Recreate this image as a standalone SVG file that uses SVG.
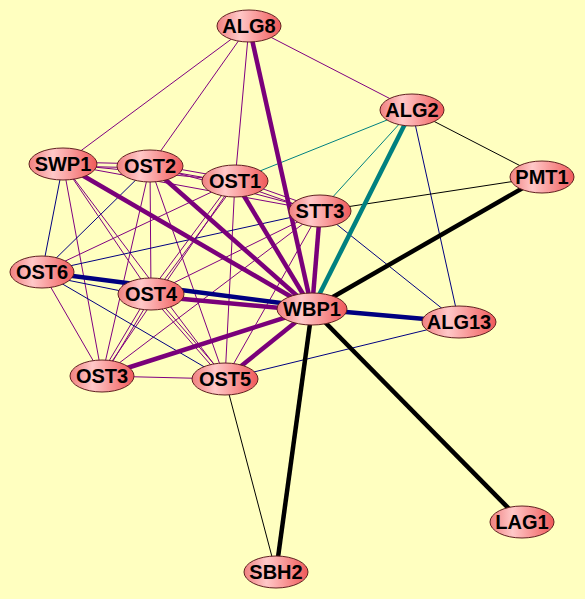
<svg xmlns="http://www.w3.org/2000/svg" width="585" height="599" viewBox="0 0 585 599">
<defs>
<linearGradient id="g" x1="0" y1="0" x2="1" y2="0">
<stop offset="0" stop-color="#f08080"/>
<stop offset="0.35" stop-color="#ffc8c8"/>
<stop offset="1" stop-color="#f05a5a"/>
</linearGradient>
<style>
.n ellipse{fill:url(#g);stroke:#602020;stroke-width:1}
.n text{font-family:"Liberation Sans",Arial,sans-serif;font-weight:bold;font-size:20px;text-anchor:middle;fill:#000}
.p{stroke:#800080;stroke-width:1}
.P{stroke:#7a007a;stroke-width:4.5}
.v{stroke:#000080;stroke-width:1}
.V{stroke:#000080;stroke-width:4.5}
.t{stroke:#008080;stroke-width:1}
.T{stroke:#008080;stroke-width:4.5}
.k{stroke:#000;stroke-width:1}
.K{stroke:#000;stroke-width:4.5}
</style>
</defs>
<rect width="585" height="599" fill="#ffffc0"/>
<g id="edges" fill="none">
<line class="p" x1="249" y1="26" x2="63" y2="164"/>
<line class="p" x1="249" y1="26" x2="150" y2="166"/>
<line class="p" x1="249" y1="26" x2="235" y2="181"/>
<line class="p" x1="249" y1="26" x2="412" y2="110"/>
<line class="p" x1="63" y1="162" x2="150" y2="164"/>
<line class="p" x1="63" y1="166" x2="150" y2="168"/>
<line class="p" x1="63" y1="164" x2="235" y2="181"/>
<line class="p" x1="63" y1="164" x2="151" y2="294"/>
<line class="p" x1="63" y1="164" x2="102" y2="376"/>
<line class="p" x1="63" y1="164" x2="225" y2="379"/>
<line class="p" x1="63" y1="164" x2="320" y2="211"/>
<line class="p" x1="150" y1="164" x2="235" y2="179"/>
<line class="p" x1="150" y1="168" x2="235" y2="183"/>
<line class="p" x1="150" y1="166" x2="320" y2="211"/>
<line class="p" x1="150" y1="166" x2="151" y2="294"/>
<line class="p" x1="150" y1="166" x2="102" y2="376"/>
<line class="p" x1="150" y1="166" x2="225" y2="379"/>
<line class="p" x1="235" y1="179" x2="320" y2="209"/>
<line class="p" x1="235" y1="183" x2="320" y2="213"/>
<line class="p" x1="233" y1="180" x2="149" y2="293"/>
<line class="p" x1="237" y1="182" x2="153" y2="295"/>
<line class="p" x1="235" y1="181" x2="102" y2="376"/>
<line class="p" x1="235" y1="181" x2="225" y2="379"/>
<line class="p" x1="235" y1="181" x2="42" y2="272"/>
<line class="p" x1="320" y1="211" x2="151" y2="294"/>
<line class="p" x1="320" y1="211" x2="102" y2="376"/>
<line class="p" x1="320" y1="211" x2="225" y2="379"/>
<line class="p" x1="149" y1="294" x2="100" y2="376"/>
<line class="p" x1="153" y1="294" x2="104" y2="376"/>
<line class="p" x1="149" y1="294" x2="223" y2="379"/>
<line class="p" x1="153" y1="294" x2="227" y2="379"/>
<line class="p" x1="102" y1="376" x2="225" y2="379"/>
<line class="p" x1="42" y1="272" x2="102" y2="376"/>
<line class="v" x1="412" y1="110" x2="459" y2="322"/>
<line class="v" x1="320" y1="211" x2="459" y2="322"/>
<line class="v" x1="459" y1="322" x2="225" y2="379"/>
<line class="v" x1="42" y1="272" x2="63" y2="164"/>
<line class="v" x1="42" y1="272" x2="150" y2="166"/>
<line class="v" x1="42" y1="272" x2="320" y2="211"/>
<line class="v" x1="42" y1="275" x2="151" y2="297"/>
<line class="v" x1="42" y1="272" x2="225" y2="379"/>
<line class="t" x1="412" y1="110" x2="235" y2="181"/>
<line class="t" x1="412" y1="110" x2="320" y2="211"/>
<line class="k" x1="412" y1="110" x2="542" y2="177"/>
<line class="k" x1="542" y1="177" x2="320" y2="211"/>
<line class="k" x1="225" y1="379" x2="276" y2="572"/>
<line class="P" x1="249" y1="26" x2="312" y2="309"/>
<line class="P" x1="63" y1="164" x2="312" y2="309"/>
<line class="P" x1="150" y1="166" x2="312" y2="309"/>
<line class="P" x1="235" y1="181" x2="312" y2="309"/>
<line class="P" x1="320" y1="211" x2="312" y2="309"/>
<line class="P" x1="151" y1="296" x2="312" y2="311"/>
<line class="P" x1="102" y1="376" x2="312" y2="309"/>
<line class="P" x1="225" y1="379" x2="312" y2="309"/>
<line class="V" x1="42" y1="272" x2="312" y2="307"/>
<line class="V" x1="312" y1="309" x2="459" y2="322"/>
<line class="T" x1="412" y1="110" x2="312" y2="309"/>
<line class="K" x1="542" y1="177" x2="312" y2="309"/>
<line class="K" x1="312" y1="309" x2="276" y2="572"/>
<line class="K" x1="312" y1="309" x2="522" y2="522"/>
</g>
<g id="ALG8" class="n"><ellipse cx="249" cy="26" rx="32" ry="16"/><text x="249" y="33">ALG8</text></g>
<g id="ALG2" class="n"><ellipse cx="412" cy="110" rx="32" ry="16"/><text x="412" y="117">ALG2</text></g>
<g id="PMT1" class="n"><ellipse cx="542" cy="177" rx="32" ry="16"/><text x="542" y="184">PMT1</text></g>
<g id="SWP1" class="n"><ellipse cx="63" cy="164" rx="34" ry="16"/><text x="63" y="171">SWP1</text></g>
<g id="OST2" class="n"><ellipse cx="150" cy="166" rx="33" ry="16"/><text x="150" y="173">OST2</text></g>
<g id="OST1" class="n"><ellipse cx="235" cy="181" rx="33" ry="16"/><text x="235" y="188">OST1</text></g>
<g id="STT3" class="n"><ellipse cx="320" cy="211" rx="31" ry="16"/><text x="320" y="218">STT3</text></g>
<g id="OST6" class="n"><ellipse cx="42" cy="272" rx="32" ry="16"/><text x="42" y="279">OST6</text></g>
<g id="OST4" class="n"><ellipse cx="151" cy="294" rx="33" ry="16"/><text x="151" y="301">OST4</text></g>
<g id="WBP1" class="n"><ellipse cx="312" cy="309" rx="35" ry="16"/><text x="312" y="316">WBP1</text></g>
<g id="ALG13" class="n"><ellipse cx="459" cy="322" rx="37" ry="16"/><text x="459" y="329">ALG13</text></g>
<g id="OST3" class="n"><ellipse cx="102" cy="376" rx="32" ry="16"/><text x="102" y="383">OST3</text></g>
<g id="OST5" class="n"><ellipse cx="225" cy="379" rx="33" ry="16"/><text x="225" y="386">OST5</text></g>
<g id="SBH2" class="n"><ellipse cx="276" cy="572" rx="32" ry="16"/><text x="276" y="579">SBH2</text></g>
<g id="LAG1" class="n"><ellipse cx="522" cy="522" rx="32" ry="16"/><text x="522" y="529">LAG1</text></g>
</svg>
